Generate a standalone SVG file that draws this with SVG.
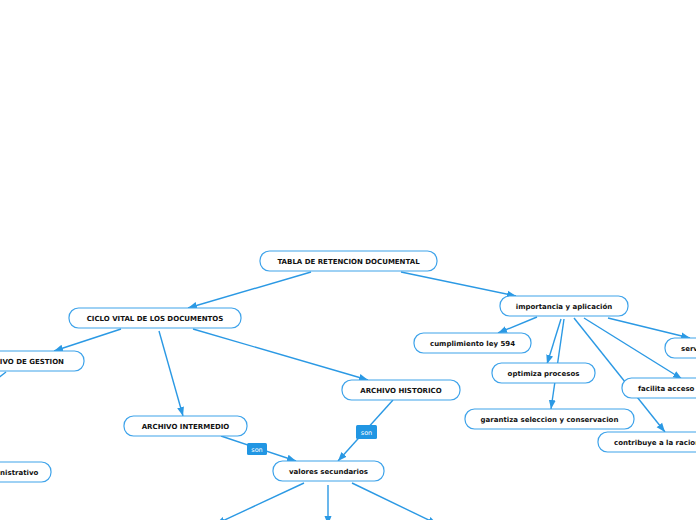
<svg xmlns="http://www.w3.org/2000/svg" width="696" height="520" viewBox="0 0 696 520">
<style>
.n rect{fill:#fff;stroke:#3ea3ea;stroke-width:1.2}
.n text{font-family:"DejaVu Sans",Verdana,sans-serif;font-weight:bold;font-size:7px;fill:#111;text-anchor:middle}
.c line{stroke:#2b99e4;stroke-width:1.4;fill:none}
.a{marker-end:url(#ah)}
.lbl rect{fill:#2196e3}
.lbl text{font-family:"DejaVu Sans",Verdana,sans-serif;font-size:6.5px;fill:#fff;text-anchor:middle}
</style>
<defs>
<marker id="ah" markerUnits="userSpaceOnUse" markerWidth="10" markerHeight="10" viewBox="0 0 10 10" refX="9" refY="5" orient="auto">
<path d="M0,1.5 L9,5 L0,8.5 z" fill="#2b99e4"/>
</marker>
</defs>
<rect width="696" height="520" fill="#fff"/>
<g id="connectors" class="c">
<line class="a" x1="311" y1="272" x2="188" y2="308"/>
<line class="a" x1="401" y1="272" x2="516" y2="296"/>
<line class="a" x1="121" y1="329" x2="54" y2="351"/>
<line class="a" x1="159" y1="331" x2="183" y2="416"/>
<line class="a" x1="193" y1="329" x2="368" y2="380"/>
<line x1="6" y1="372" x2="-6" y2="381"/>
<line class="a" x1="221" y1="436" x2="296" y2="461"/>
<line class="a" x1="393" y1="400" x2="338" y2="461"/>
<line class="a" x1="304" y1="483" x2="216" y2="524"/>
<line class="a" x1="328" y1="485" x2="328" y2="525"/>
<line class="a" x1="352" y1="483" x2="437" y2="524"/>
<line class="a" x1="537" y1="317" x2="498" y2="333"/>
<line class="a" x1="561" y1="319" x2="547" y2="364"/>
<line class="a" x1="564" y1="319" x2="551" y2="409"/>
<line class="a" x1="574" y1="318" x2="665" y2="432"/>
<line class="a" x1="584" y1="318" x2="682" y2="379"/>
<line class="a" x1="608" y1="318" x2="690" y2="338"/>
</g>
<g id="lbl-son-1" class="lbl"><rect x="247" y="443" width="20" height="12" rx="1.5"/><text x="257" y="451.5">son</text></g>
<g id="lbl-son-2" class="lbl"><rect x="356" y="425" width="21" height="14" rx="1.5"/><text x="366.5" y="434.5">son</text></g>
<g id="n-tabla" class="n"><rect x="260" y="251" width="177" height="20" rx="9.5"/><text x="348.5" y="263.5">TABLA DE RETENCION DOCUMENTAL</text></g>
<g id="n-ciclo" class="n"><rect x="69" y="308" width="172" height="20" rx="9.5"/><text x="155" y="320.5">CICLO VITAL DE LOS DOCUMENTOS</text></g>
<g id="n-gestion" class="n"><rect x="-42" y="351" width="126" height="20" rx="9.5"/><text x="21" y="363.5">ARCHIVO DE GESTION</text></g>
<g id="n-intermedio" class="n"><rect x="124" y="416" width="123" height="20" rx="9.5"/><text x="185.5" y="428.5">ARCHIVO INTERMEDIO</text></g>
<g id="n-historico" class="n"><rect x="342" y="380" width="118" height="20" rx="9.5"/><text x="401" y="392.5">ARCHIVO HISTORICO</text></g>
<g id="n-valores" class="n"><rect x="273" y="461" width="111" height="20" rx="9.5"/><text x="328.5" y="473.5">valores secundarios</text></g>
<g id="n-administrativo" class="n"><rect x="-32" y="462" width="83" height="20" rx="9.5"/><text x="9.5" y="474.5">administrativo</text></g>
<g id="n-importancia" class="n"><rect x="500" y="296" width="128" height="20" rx="9.5"/><text x="564" y="308.5">importancia y aplicación</text></g>
<g id="n-cumplimiento" class="n"><rect x="414" y="333" width="117" height="20" rx="9.5"/><text x="472.5" y="345.5">cumplimiento ley 594</text></g>
<g id="n-servicio" class="n"><rect x="665" y="338" width="90" height="20" rx="9.5"/><text x="681" y="350.5" style="text-anchor:start">servicio</text></g>
<g id="n-optimiza" class="n"><rect x="492" y="363" width="103" height="20" rx="9.5"/><text x="543.5" y="375.5">optimiza procesos</text></g>
<g id="n-facilita" class="n"><rect x="622" y="378" width="88" height="20" rx="9.5"/><text x="638" y="390.5" style="text-anchor:start">facilita acceso</text></g>
<g id="n-garantiza" class="n"><rect x="465" y="409" width="169" height="20" rx="9.5"/><text x="549.5" y="421.5">garantiza seleccion y conservacion</text></g>
<g id="n-contribuye" class="n"><rect x="598" y="432" width="160" height="20" rx="9.5"/><text x="614" y="444.5" style="text-anchor:start">contribuye a la racionalizacion</text></g>
</svg>
